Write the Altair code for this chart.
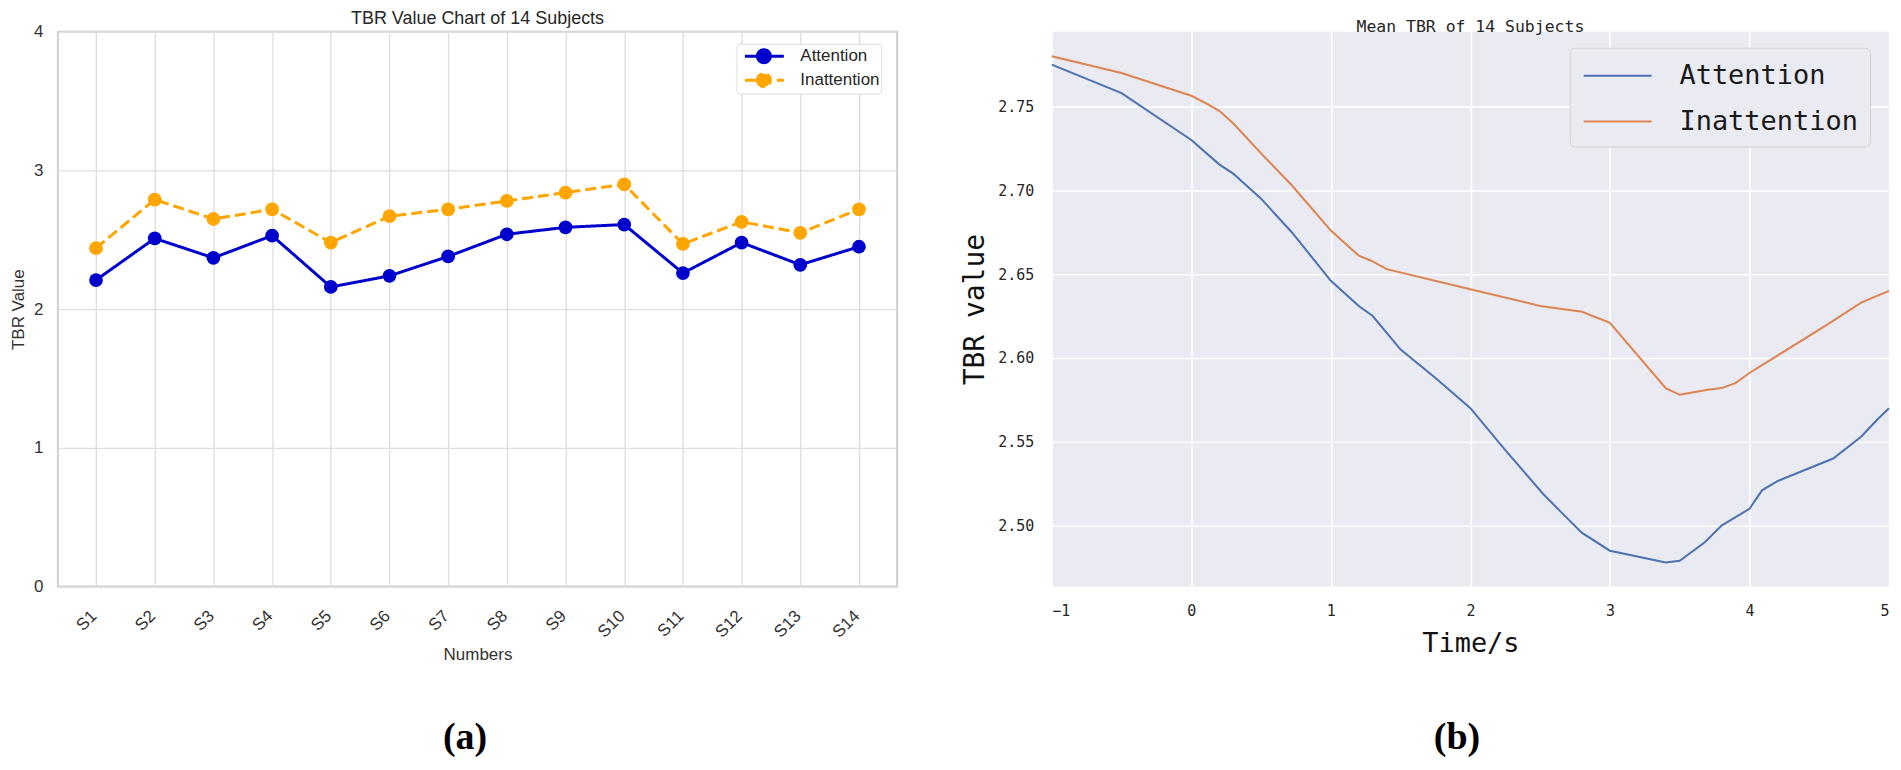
import altair as alt
import pandas as pd

# ---------------- data: panel (a) ----------------
subjects = ["S1", "S2", "S3", "S4", "S5", "S6", "S7", "S8", "S9", "S10", "S11", "S12", "S13", "S14"]
attention_tbr = [2.21, 2.51, 2.37, 2.53, 2.16, 2.24, 2.38, 2.54, 2.59, 2.61, 2.26, 2.48, 2.32, 2.45]
inattention_tbr = [2.44, 2.79, 2.65, 2.72, 2.48, 2.67, 2.72, 2.78, 2.84, 2.90, 2.47, 2.63, 2.55, 2.72]

# ---------------- data: panel (b) ----------------
time_attention = [-1.0, -0.5, 0.0, 0.2, 0.3, 0.5, 0.72, 1.0, 1.2, 1.3, 1.5, 1.75, 2.0, 2.25,
                  2.52, 2.65, 2.8, 3.0, 3.4, 3.5, 3.68, 3.8, 4.0, 4.09, 4.2, 4.6, 4.8, 4.92, 5.0]
mean_attention = [2.775, 2.758, 2.730, 2.7155, 2.710, 2.695, 2.675, 2.646, 2.631, 2.625, 2.605, 2.588, 2.570, 2.545,
                  2.519, 2.508, 2.4956, 2.485, 2.478, 2.479, 2.490, 2.500, 2.510, 2.521, 2.5265, 2.540, 2.553, 2.5636, 2.570]
time_inattention = [-1.0, -0.5, 0.0, 0.11, 0.2, 0.3, 0.5, 0.72, 1.0, 1.2, 1.29, 1.4, 2.0, 2.5,
                    2.8, 3.0, 3.4, 3.5, 3.7, 3.8, 3.9, 4.0, 4.56, 4.8, 5.0]
mean_inattention = [2.780, 2.770, 2.7564, 2.7517, 2.7474, 2.740, 2.722, 2.703, 2.676, 2.661, 2.658, 2.653, 2.641, 2.631,
                    2.6275, 2.621, 2.582, 2.578, 2.581, 2.582, 2.585, 2.591, 2.620, 2.633, 2.640]

series = ["Attention", "Inattention"]
panel_labels = ["(a)", "(b)"]

df_a = pd.DataFrame({
    "subject": subjects * 2,
    "tbr": attention_tbr + inattention_tbr,
    "series": [series[0]] * len(subjects) + [series[1]] * len(subjects),
})
df_b = pd.DataFrame({
    "time": time_attention + time_inattention,
    "tbr": mean_attention + mean_inattention,
    "series": [series[0]] * len(time_attention) + [series[1]] * len(time_inattention),
})

# ---------------- styles ----------------
SANS = "Liberation Sans, Arial, sans-serif"
MONO = "DejaVu Sans Mono, Liberation Mono, monospace"
SERIF = "Liberation Serif, Times New Roman, serif"
TXT = "#262626"

# ---------------- panel (a) ----------------
path_a = "M-0.4,0H3.5M0.85,0A0.65,0.65,0,1,0,2.15,0A0.65,0.65,0,1,0,0.85,0Z"
legend_a = alt.Legend(
    title=None, orient="none", legendX=680, legendY=12,
    symbolType=path_a, symbolSize=400, symbolStrokeWidth=3,
    labelFont=SANS, labelFontSize=17, labelColor=TXT, labelOffset=40, labelLimit=300,
    rowPadding=-4, padding=1, fillColor="white", strokeColor="#DDDDDD",
    cornerRadius=3,
)
scale_color_a = alt.Scale(domain=series, range=["#0000CD", "#FFA500"])
scale_dash_a = alt.Scale(domain=series, range=[[1, 0], [11, 5]])

axis_common_a = dict(
    labelFont=SANS, labelFontSize=17, labelColor="#333333",
    titleFont=SANS, titleFontSize=17, titleFontWeight="normal", titleColor="#333333",
    domain=False, ticks=False, grid=True, gridColor="#DDDDDD", gridWidth=1.3,
)

x_a = alt.X("subject:N", sort=subjects,
            scale=alt.Scale(type="point", domain=subjects, padding=0.65),
            axis=alt.Axis(title="Numbers", labelAngle=315, labelPadding=21, labelOffset=-8,
                          titlePadding=6, **axis_common_a))
y_a = alt.Y("tbr:Q", scale=alt.Scale(domain=[0, 4], nice=False, zero=False),
            axis=alt.Axis(title="TBR Value", values=[0, 1, 2, 3, 4], labelPadding=15,
                          titlePadding=6, **axis_common_a))

lines_a = alt.Chart(df_a).mark_line(strokeWidth=3).encode(
    x=x_a, y=y_a,
    color=alt.Color("series:N", scale=scale_color_a, legend=legend_a),
    strokeDash=alt.StrokeDash("series:N", scale=scale_dash_a, legend=legend_a),
)
points_a = alt.Chart(df_a).mark_circle(size=190, opacity=1).encode(
    x=x_a, y=y_a,
    fill=alt.Fill("series:N", scale=scale_color_a, legend=legend_a),
)
label_a = alt.Chart(pd.DataFrame({"panel": [panel_labels[0]]})).mark_text(
    font=SERIF, fontSize=38, fontWeight="bold", align="center", baseline="middle", color="black"
).encode(text="panel:N", x=alt.value(408), y=alt.value(708))

left = alt.layer(lines_a, points_a, label_a).properties(
    width=841, height=556,
    title=alt.TitleParams("TBR Value Chart of 14 Subjects", font=SANS, fontSize=18,
                          fontWeight="normal", color=TXT, offset=-5),
    view=alt.ViewBackground(fill="white", stroke="#CFCFCF", strokeWidth=2),
)

# ---------------- panel (b) ----------------
legend_b = alt.Legend(
    title=None, orient="none", legendX=519, legendY=16,
    symbolType="M-0.93,0H3.6", symbolSize=900, symbolStrokeWidth=2,
    labelFont=MONO, labelFontSize=27, labelColor="#1a1a1a", labelOffset=66, labelLimit=400,
    rowPadding=17, padding=12, fillColor="#EAEAF2", strokeColor="#D3D3D3",
    cornerRadius=5,
)
scale_color_b = alt.Scale(domain=series, range=["#4C72B0", "#DD8452"])

axis_common_b = dict(
    labelFont=MONO, labelFontSize=15, labelColor=TXT,
    titleFont=MONO, titleFontWeight="normal", titleColor="#111111",
    domain=False, ticks=False, grid=True, gridColor="white", gridWidth=1.5,
)

lines_b = alt.Chart(df_b).mark_line(strokeWidth=2).encode(
    x=alt.X("time:Q", scale=alt.Scale(domain=[-1, 5], nice=False, zero=False),
            axis=alt.Axis(title="Time/s", values=[-1, 0, 1, 2, 3, 4, 5], format="d",
                          labelPadding=17, titlePadding=12, titleFontSize=27, **axis_common_b)),
    y=alt.Y("tbr:Q", scale=alt.Scale(domain=[2.4636, 2.7946], nice=False, zero=False),
            axis=alt.Axis(title="TBR value", values=[2.50, 2.55, 2.60, 2.65, 2.70, 2.75], format=".2f",
                          labelPadding=18, titlePadding=8, titleFontSize=28, **axis_common_b)),
    color=alt.Color("series:N", scale=scale_color_b, legend=legend_b),
    order="time:Q",
)
label_b = alt.Chart(pd.DataFrame({"panel": [panel_labels[1]]})).mark_text(
    font=SERIF, fontSize=38, fontWeight="bold", align="center", baseline="middle", color="black"
).encode(text="panel:N", x=alt.value(406), y=alt.value(708))

right = alt.layer(lines_b, label_b).properties(
    width=839, height=556,
    title=alt.TitleParams("Mean TBR of 14 Subjects", font=MONO, fontSize=16.5,
                          fontWeight="normal", color=TXT, offset=-4),
    view=alt.ViewBackground(fill="#EAEAF2", strokeWidth=0),
)

chart = alt.hconcat(left, right, spacing=155, bounds="flush").resolve_scale(
    color="independent", fill="independent", strokeDash="independent",
    x="independent", y="independent",
).properties(padding=0, background="white")

chart.save("out.html", embed_options={"renderer": "svg", "actions": False})
